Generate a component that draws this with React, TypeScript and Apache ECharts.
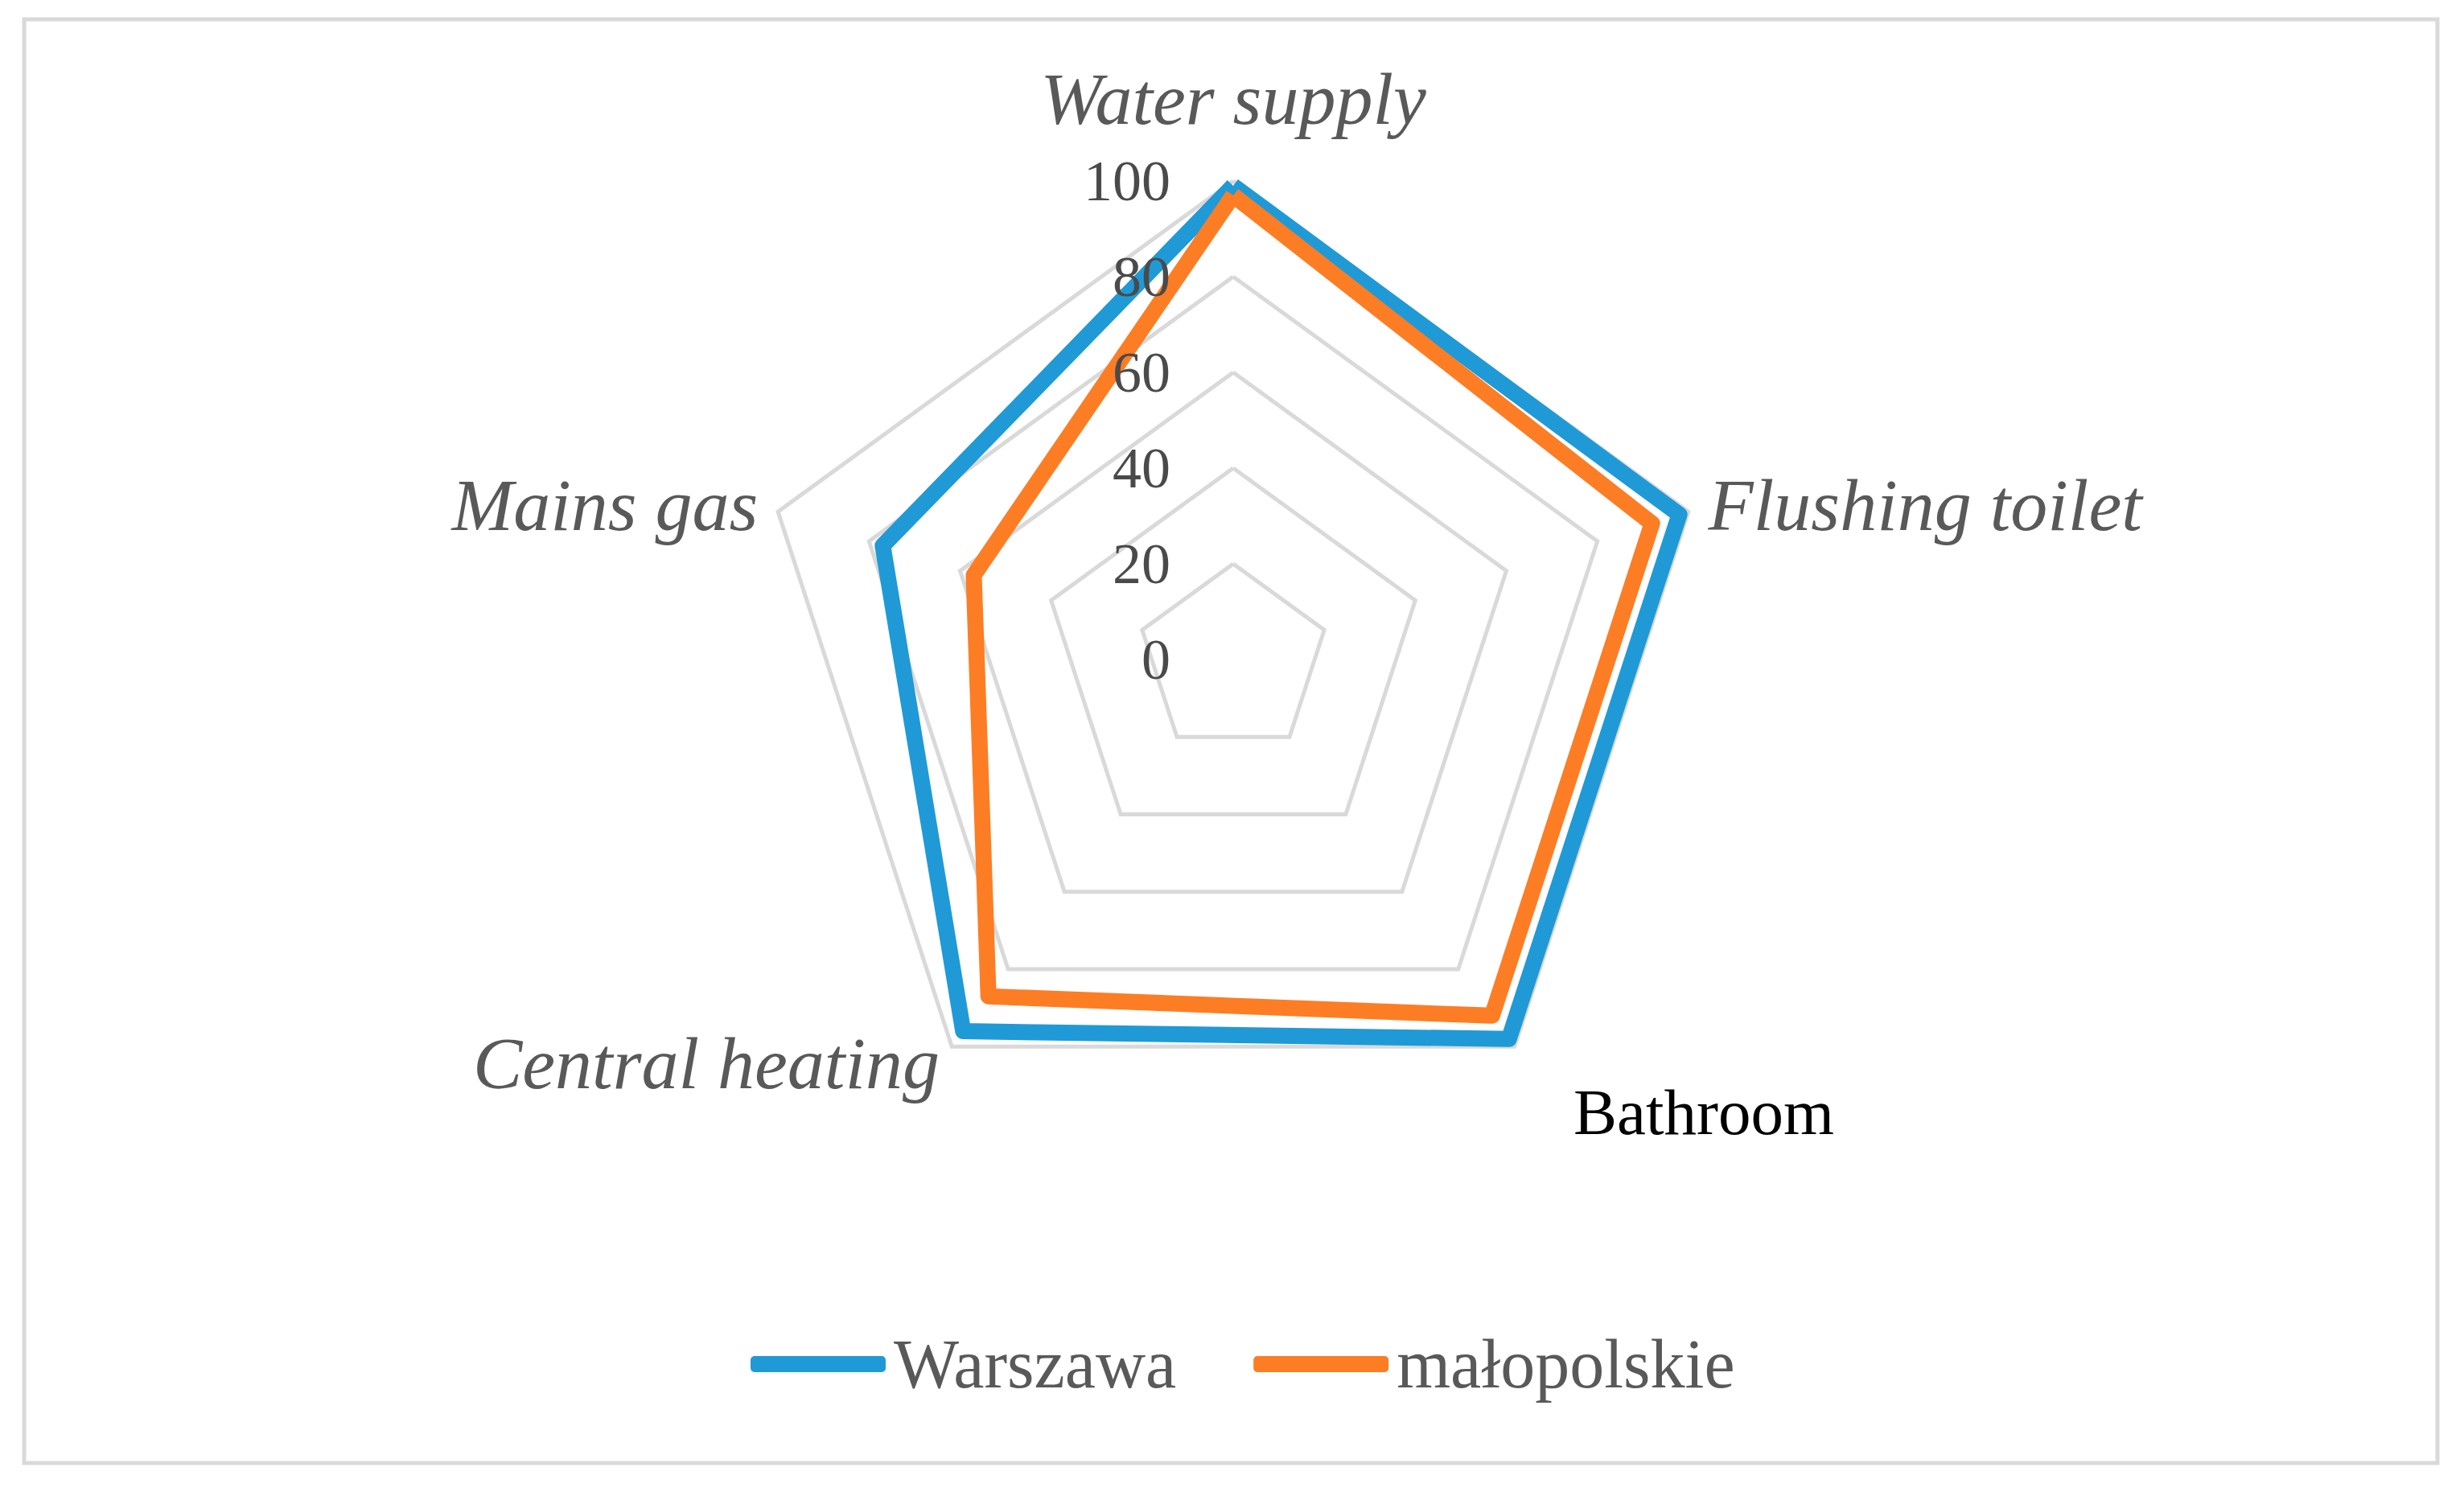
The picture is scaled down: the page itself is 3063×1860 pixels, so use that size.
import React, { useEffect, useRef } from "react";
import * as echarts from "echarts";

const categories = ["Water supply", "Mains gas", "Central heating", "Bathroom", "Flushing toilet"];
const warszawa = [99, 77, 96, 98, 98];
const malopolskie = [97, 57, 87, 92, 92];
const seriesNames = ["Warszawa", "małopolskie"];
const axisMax = 100;

const SERIF = "'Liberation Serif', 'Times New Roman', serif";

export default function App() {
  const ref = useRef<HTMLDivElement>(null);
  useEffect(() => {
    if (!ref.current) return;
    const chart = echarts.init(ref.current, undefined, { renderer: "svg" });
    const indicator = categories.map((name, i) => {
      const base: any = { name, max: axisMax, min: 0 };
      if (i === 0) base.nameGap = 56;
      if (name === "Bathroom") {
        base.nameGap = 101;
        base.nameTextStyle = {
          color: "#000000",
          fontStyle: "normal",
          fontSize: 81,
          padding: [0, 0, 0, 14],
        };
      }
      return base;
    });
    const labelIndicator = categories.map((name, i) => {
      const base: any = { name, max: axisMax, min: 0 };
      if (i === 0) {
        base.axisLabel = {
          show: true,
          color: "#4a4a4a",
          fontFamily: SERIF,
          fontSize: 72,
          margin: 78,
        };
      }
      return base;
    });
    const common = {
      center: [1533, 820],
      radius: 595,
      startAngle: 90,
      splitNumber: 5,
      shape: "polygon",
    };
    chart.setOption({
      animation: false,
      backgroundColor: "#ffffff",
      graphic: [
        {
          type: "rect",
          shape: { x: 30, y: 24, width: 3000, height: 1795 },
          style: { fill: "none", stroke: "#d9d9d9", lineWidth: 5 },
          silent: true,
        },
      ],
      legend: {
        data: seriesNames,
        left: 928,
        top: 1648,
        icon: "roundRect",
        itemWidth: 168,
        itemHeight: 20,
        itemGap: 96,
        textStyle: { color: "#595959", fontFamily: SERIF, fontSize: 86, padding: [0, 0, 0, 5] },
      },
      radar: [
        {
          ...common,
          z: 0,
          nameGap: 26,
          axisName: {
            color: "#595959",
            fontFamily: SERIF,
            fontStyle: "italic",
            fontSize: 92,
          },
          axisLine: { show: false },
          axisTick: { show: false },
          axisLabel: { show: false },
          splitLine: { lineStyle: { color: "#d9d9d9", width: 5 } },
          splitArea: { show: false },
          indicator,
        },
        {
          ...common,
          z: 10,
          axisName: { show: false },
          axisLine: { show: false },
          axisTick: { show: false },
          axisLabel: { show: false },
          splitLine: { show: false },
          splitArea: { show: false },
          indicator: labelIndicator,
        },
      ],
      series: [
        {
          type: "radar",
          radarIndex: 0,
          z: 2,
          symbol: "none",
          data: [
            {
              name: seriesNames[0],
              value: warszawa,
              lineStyle: { color: "#1f9ad6", width: 20 },
              itemStyle: { color: "#1f9ad6" },
            },
            {
              name: seriesNames[1],
              value: malopolskie,
              lineStyle: { color: "#fd7d24", width: 20 },
              itemStyle: { color: "#fd7d24" },
            },
          ],
        },
      ],
    });
    return () => chart.dispose();
  }, []);
  return (
    <div
      ref={ref}
      style={{ position: "absolute", left: 0, top: 0, width: 3063, height: 1860 }}
    />
  );
}
